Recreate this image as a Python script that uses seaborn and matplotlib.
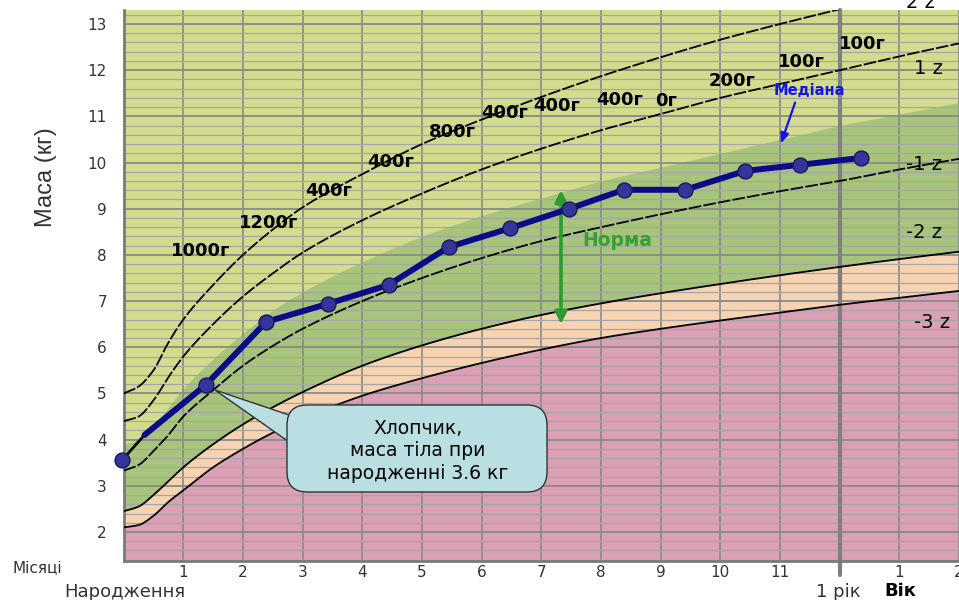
import numpy as np
import matplotlib
matplotlib.use("Agg")
import matplotlib.pyplot as plt
import seaborn as sns
from matplotlib.patches import FancyBboxPatch, Polygon

# reference curves (boys, weight for age, kg)
age = [0, 0.25, 0.5, 0.75, 1, 1.5, 2, 2.5, 3, 4, 5, 6, 7, 8, 9, 10, 11, 12, 13, 14]
sd_minus3 = [2.1, 2.15, 2.35, 2.65, 2.9, 3.4, 3.8, 4.15, 4.45, 4.95, 5.33, 5.66, 5.95, 6.2, 6.4, 6.58, 6.75, 6.92, 7.07, 7.22]
sd_minus2 = [2.45, 2.55, 2.8, 3.1, 3.4, 3.9, 4.33, 4.7, 5.03, 5.6, 6.04, 6.4, 6.7, 6.95, 7.17, 7.37, 7.56, 7.74, 7.91, 8.07]
median = [3.33, 3.45, 3.75, 4.1, 4.5, 5.07, 5.6, 6.03, 6.4, 7.0, 7.5, 7.93, 8.3, 8.6, 8.88, 9.14, 9.38, 9.6, 9.85, 10.08]
sd_plus1 = [3.9, 4.0, 4.3, 4.7, 5.1, 5.75, 6.3, 6.8, 7.2, 7.85, 8.4, 8.85, 9.23, 9.6, 9.9, 10.2, 10.5, 10.8, 11.05, 11.3]
sd_plus2 = [4.4, 4.5, 4.85, 5.35, 5.8, 6.5, 7.1, 7.6, 8.05, 8.75, 9.33, 9.85, 10.3, 10.7, 11.05, 11.4, 11.7, 12.0, 12.3, 12.58]
sd_plus3 = [5.0, 5.15, 5.5, 6.1, 6.6, 7.35, 8.0, 8.55, 9.03, 9.75, 10.4, 10.93, 11.42, 11.87, 12.28, 12.66, 13.0, 13.32, 13.63, 13.93]

# the boy's measurements
visit_month = [-0.03, 1.38, 2.39, 3.42, 4.44, 5.45, 6.48, 7.47, 8.38, 9.41, 10.42, 11.33, 12.36]
visit_weight = [3.55, 5.19, 6.55, 6.94, 7.35, 8.17, 8.58, 9.0, 9.41, 9.41, 9.82, 9.95, 10.1]
line_start = [0.35, 4.1]

gain_labels = ["1000г", "1200г", "400г", "400г", "800г", "400г", "400г", "400г", "0г", "200г", "100г", "100г"]
gain_pos = [(201, 251), (269, 223), (329, 191), (391, 162), (452, 132), (505, 113),
            (557, 106), (620, 100), (666, 101), (732, 81), (801, 62), (862, 44)]

z_labels = ["2 z", "1 z", "-1 z", "-2 z", "-3 z"]
z_pos = [(921, 3), (928, 69), (924, 164), (924, 232), (932, 322)]

month_ticks = [1, 2, 3, 4, 5, 6, 7, 8, 9, 10, 11, 12, 13, 14]
month_labels = ["1", "2", "3", "4", "5", "6", "7", "8", "9", "10", "11", "", "1", "2"]
kg_ticks = [2, 3, 4, 5, 6, 7, 8, 9, 10, 11, 12, 13]

W, H = 959, 600


def fxy(x, y):
    # pixel position -> figure fraction
    return x / W, 1 - y / H


def smooth(xs, ys, n=500):
    # monotone cubic (like the smoothed lines of the original chart)
    x = np.asarray(xs, float)
    y = np.asarray(ys, float)
    h = np.diff(x)
    d = np.diff(y) / h
    m = np.zeros_like(y)
    m[0], m[-1] = d[0], d[-1]
    for k in range(1, len(x) - 1):
        if d[k - 1] * d[k] > 0:
            w1 = 2 * h[k] + h[k - 1]
            w2 = h[k] + 2 * h[k - 1]
            m[k] = (w1 + w2) / (w1 / d[k - 1] + w2 / d[k])
    xx = np.linspace(x[0], x[-1], n)
    i = np.clip(np.searchsorted(x, xx) - 1, 0, len(x) - 2)
    t = (xx - x[i]) / h[i]
    yy = ((2 * t**3 - 3 * t**2 + 1) * y[i] + (t**3 - 2 * t**2 + t) * h[i] * m[i]
          + (-2 * t**3 + 3 * t**2) * y[i + 1] + (t**3 - t**2) * h[i] * m[i + 1])
    return xx, yy


sns.set_style("white")
plt.rcParams["font.family"] = ["DejaVu Sans"]

fig = plt.figure(figsize=(W / 100, H / 100), dpi=100)
ax = fig.add_axes([123.6 / W, 39 / H, (W - 123.6) / W, 551 / H])

pink = "#DB9FB6"
peach = "#F8D3B2"
green = "#A7C57A"
lime = "#D3DC8C"

xs, m3 = smooth(age, sd_minus3)
_, m2 = smooth(age, sd_minus2)
_, p1 = smooth(age, sd_plus1)

ax.set_facecolor(lime)
ax.fill_between(xs, 0, m3, color=pink, lw=0, zorder=1)
ax.fill_between(xs, m3, m2, color=peach, lw=0, zorder=1)
ax.fill_between(xs, m2, p1, color=green, lw=0, zorder=1)

dash = (0, (7, 1.2))
for curve, ls in [(sd_minus3, "-"), (sd_minus2, "-"), (median, dash),
                  (sd_plus2, dash), (sd_plus3, dash)]:
    cx, cy = smooth(age, curve)
    sns.lineplot(x=cx, y=cy, ax=ax, color="black", lw=1.3, linestyle=ls, zorder=3)

ax.set_xlim(0, 14)
ax.set_ylim(1.372, 13.303)

# grid
ax.set_axisbelow("line")
ax.set_xticks(month_ticks)
ax.set_xticklabels(month_labels, fontsize=11, color="#333333")
ax.set_yticks(kg_ticks)
ax.set_yticklabels([str(k) for k in kg_ticks], fontsize=11, color="#333333")
ax.set_yticks([1.4 + 0.2 * i for i in range(60) if 1.4 + 0.2 * i < 13.3], minor=True)
ax.grid(axis="x", which="major", color="#8A8A8A", lw=1.2)
ax.grid(axis="y", which="major", color="#8A8A8A", lw=1.3)
ax.grid(axis="y", which="minor", color="#A6A6A6", lw=0.9)
ax.tick_params(axis="both", which="both", length=0)
ax.tick_params(axis="y", pad=12)
ax.tick_params(axis="x", pad=3)
for side in ["top", "right"]:
    ax.spines[side].set_visible(False)
for side in ["left", "bottom"]:
    ax.spines[side].set_color("#7A7A7A")
    ax.spines[side].set_linewidth(2)

# one year mark
ax.axvline(12, ymin=-0.026, ymax=1, color="#808080", lw=3, clip_on=False, zorder=2)

# the boy's curve
sns.lineplot(x=[visit_month[0], line_start[0]], y=[visit_weight[0], line_start[1]],
             ax=ax, color="black", lw=2, zorder=4)
sns.lineplot(x=[line_start[0]] + visit_month[1:], y=[line_start[1]] + visit_weight[1:],
             ax=ax, color="#0B0B8A", lw=4.3, zorder=5)
sns.scatterplot(x=visit_month, y=visit_weight, ax=ax, s=115, color="#34349C",
                edgecolor="#1A1A55", linewidth=1, zorder=6, clip_on=False)
ax.set_xlabel("")
ax.set_ylabel("")

# weight gain labels
for lab, (px, py) in zip(gain_labels, gain_pos):
    fig.text(*fxy(px, py), lab, ha="center", va="center", fontsize=13,
             fontweight="bold", color="black")

for lab, (px, py) in zip(z_labels, z_pos):
    fig.text(*fxy(px, py), lab, ha="center", va="center", fontsize=14, color="black")

# median label and arrow
fig.text(*fxy(809, 91), "Медіана", ha="center", va="center", fontsize=10.5,
         fontweight="bold", color="#1414E6")
ax.annotate("", xy=fxy(780, 146), xycoords="figure fraction",
            xytext=fxy(796, 100), textcoords="figure fraction",
            arrowprops=dict(arrowstyle="-|>,head_length=0.6,head_width=0.25",
                            color="#1414E6", lw=1.6))

# norm arrow
ax.annotate("", xy=fxy(561, 190), xycoords="figure fraction",
            xytext=fxy(561, 324), textcoords="figure fraction",
            arrowprops=dict(arrowstyle="<|-|>,head_length=0.7,head_width=0.35",
                            color="#2F9A2F", lw=2.6, shrinkA=0, shrinkB=0))
fig.text(*fxy(617, 240), "Норма", ha="center", va="center", fontsize=13.5,
         fontweight="bold", color="#35A035")

# callout
tip = fxy(215, 390)
pointer = Polygon([tip, fxy(292, 416), fxy(292, 444)], closed=True,
                  transform=fig.transFigure, fc="#BADFE3", ec="#333333", lw=1, zorder=7)
fig.add_artist(pointer)
box = FancyBboxPatch(fxy(287, 492), 260 / W, 87 / H,
                     boxstyle="round,pad=0,rounding_size=0.021", mutation_aspect=W / H,
                     transform=fig.transFigure, fc="#BADFE3", ec="#333333", lw=1, zorder=8)
fig.add_artist(box)
fig.text(*fxy(418, 451), "Хлопчик,\nмаса тіла при\nнародженні 3.6 кг", ha="center",
         va="center", fontsize=13.5, linespacing=1.25, multialignment="center",
         color="black", zorder=9)

# axis texts
fig.text(*fxy(46, 177), "Маса (кг)", rotation=90, ha="center", va="center",
         fontsize=17, color="#333333", family=["Liberation Sans"])
fig.text(*fxy(12, 568), "Місяці", ha="left", va="center", fontsize=11, color="#333333")
fig.text(*fxy(125, 592), "Народження", ha="center", va="center", fontsize=13, color="#333333")
fig.text(*fxy(838, 592), "1 рік", ha="center", va="center", fontsize=13, color="#333333")
fig.text(*fxy(900, 591), "Вік", ha="center", va="center", fontsize=13,
         fontweight="bold", color="black")

fig.savefig("out.png", dpi=100, facecolor="white")
